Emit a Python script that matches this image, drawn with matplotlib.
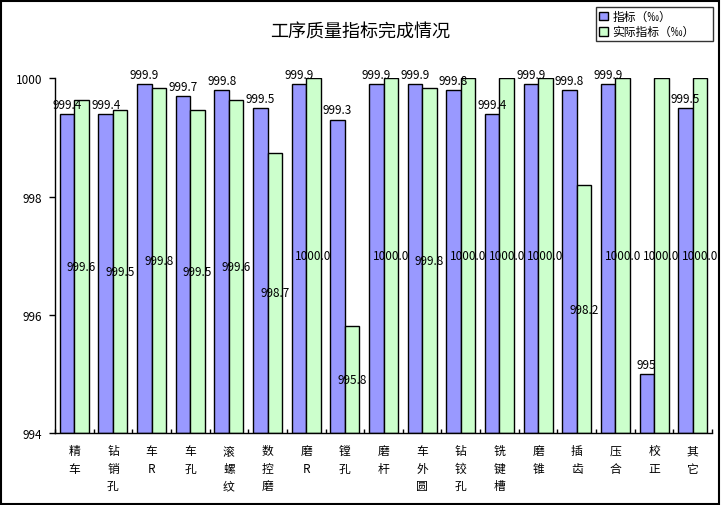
import matplotlib
matplotlib.use("Agg")
import matplotlib.pyplot as plt
from matplotlib.patches import Rectangle
import numpy as np

plt.rcParams['font.family'] = ['Noto Sans CJK SC', 'DejaVu Sans']

categories = ["精车", "钻销孔", "车R", "车孔", "滚螺纹", "数控磨", "磨R", "镗孔", "磨杆",
              "车外圆", "钻铰孔", "铣键槽", "磨锥", "插齿", "压合", "校正", "其它"]
target = [999.4, 999.4, 999.9, 999.7, 999.8, 999.5, 999.9, 999.3, 999.9,
          999.9, 999.8, 999.4, 999.9, 999.8, 999.9, 995.0, 999.5]
actual = [999.64, 999.47, 999.83, 999.47, 999.64, 998.74, 1000.0, 995.81, 1000.0,
          999.83, 1000.0, 1000.0, 1000.0, 998.19, 1000.0, 1000.0, 1000.0]
yticks = [994, 996, 998, 1000]
series_names = ["指标（‰）", "实际指标（‰）"]
title = "工序质量指标完成情况"

W, H = 721, 506
fig = plt.figure(figsize=(W / 100, H / 100), dpi=100)
fig.patch.set_facecolor("white")
left, right, top, bottom = 55, 712, 79.3, 434
ax = fig.add_axes([left / W, 1 - bottom / H, (right - left) / W, (bottom - top) / H])

x = np.arange(len(categories))
bw = 0.375
blue = "#9999FF"
green = "#CCFFCC"
base = yticks[0]
b1 = ax.bar(x - bw / 2, np.array(target) - base, bw, bottom=base, color=blue,
            edgecolor="black", linewidth=1.0, label=series_names[0])
b2 = ax.bar(x + bw / 2, np.array(actual) - base, bw, bottom=base, color=green,
            edgecolor="black", linewidth=1.0, label=series_names[1])

for xi, v in zip(x, target):
    ax.annotate(f"{v:g}", (xi - bw / 2, v), xytext=(0, 7), textcoords="offset points",
                ha="center", va="center", fontsize=8.5, annotation_clip=False)
for xi, v in zip(x, actual):
    ax.text(xi + bw / 2, (v + base) / 2, f"{v:.1f}", ha="center", va="center", fontsize=8.5)

ax.set_xlim(-0.5, len(categories) - 0.5)
ax.set_ylim(yticks[0], yticks[-1])
ax.set_yticks(yticks)
ax.set_yticklabels([str(t) for t in yticks], fontsize=8.5)
ax.tick_params(axis="y", direction="out", length=4, width=1, pad=5)
ax.set_xticks(x)
ax.set_xticklabels(["\n".join(c) for c in categories], fontsize=8.5, linespacing=1.45)
ax.tick_params(axis="x", length=0, pad=8)
ax.set_xticks(np.arange(len(categories) + 1) - 0.5, minor=True)
ax.tick_params(axis="x", which="minor", direction="in", length=3, width=1)
for s in ["top", "right"]:
    ax.spines[s].set_visible(False)
for s in ["left", "bottom"]:
    ax.spines[s].set_linewidth(1.0)

fig.text(360 / W, 1 - 33 / H, title, ha="center", va="center", fontsize=13)

leg = fig.legend(handles=[b1, b2], loc="upper left",
                 bbox_to_anchor=(596 / W, 1 - 41 / H, 117 / W, 33 / H), mode="expand",
                 fontsize=8.5, frameon=True, fancybox=False, handlelength=0.75,
                 handleheight=0.75, handletextpad=0.4, borderpad=0.25, labelspacing=0.2,
                 borderaxespad=0)
leg.get_frame().set_edgecolor("black")
leg.get_frame().set_linewidth(1.0)

fig.patches.append(Rectangle((0.5 / W, 1.5 / H), 718.5 / W, 503 / H, transform=fig.transFigure,
                             fill=False, edgecolor="black", linewidth=1.5))

fig.savefig("out.png", dpi=100)
